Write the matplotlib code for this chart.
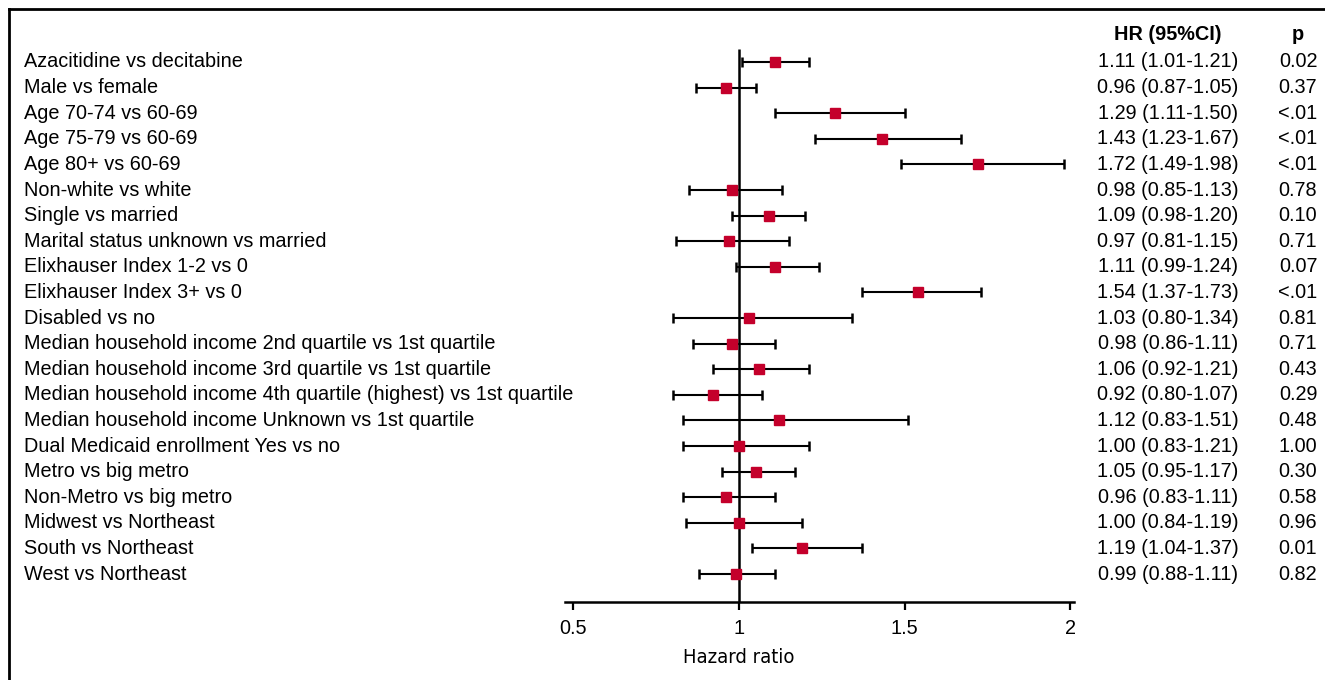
import matplotlib.pyplot as plt
import matplotlib.transforms as mtransforms
from matplotlib.lines import Line2D
import numpy as np

plt.rcParams['font.family'] = ['Liberation Sans', 'DejaVu Sans']

labels = [
    'Azacitidine vs decitabine',
    'Male vs female',
    'Age 70-74 vs 60-69',
    'Age 75-79 vs 60-69',
    'Age 80+ vs 60-69',
    'Non-white vs white',
    'Single vs married',
    'Marital status unknown vs married',
    'Elixhauser Index 1-2 vs 0',
    'Elixhauser Index 3+ vs 0',
    'Disabled vs no',
    'Median household income 2nd quartile vs 1st quartile',
    'Median household income 3rd quartile vs 1st quartile',
    'Median household income 4th quartile (highest) vs 1st quartile',
    'Median household income Unknown vs 1st quartile',
    'Dual Medicaid enrollment Yes vs no',
    'Metro vs big metro',
    'Non-Metro vs big metro',
    'Midwest vs Northeast',
    'South vs Northeast',
    'West vs Northeast',
]
hr = [1.11, 0.96, 1.29, 1.43, 1.72, 0.98, 1.09, 0.97, 1.11, 1.54, 1.03,
      0.98, 1.06, 0.92, 1.12, 1.00, 1.05, 0.96, 1.00, 1.19, 0.99]
lo = [1.01, 0.87, 1.11, 1.23, 1.49, 0.85, 0.98, 0.81, 0.99, 1.37, 0.80,
      0.86, 0.92, 0.80, 0.83, 0.83, 0.95, 0.83, 0.84, 1.04, 0.88]
hi = [1.21, 1.05, 1.50, 1.67, 1.98, 1.13, 1.20, 1.15, 1.24, 1.73, 1.34,
      1.11, 1.21, 1.07, 1.51, 1.21, 1.17, 1.11, 1.19, 1.37, 1.11]
pvals = ['0.02', '0.37', '<.01', '<.01', '<.01', '0.78', '0.10', '0.71',
         '0.07', '<.01', '0.81', '0.71', '0.43', '0.29', '0.48', '1.00',
         '0.30', '0.58', '0.96', '0.01', '0.82']
xticks = [0.5, 1, 1.5, 2]

W, H = 1325, 680
FS = 14.3
XMIN, XMAX = 0.475, 2.0106
fig = plt.figure(figsize=(W / 100, H / 100), dpi=100)
# axes placed so that spine runs 565..1074 px, bottom at y=602 px
ax = fig.add_axes([565 / W, (H - 602) / H, (1074 - 565) / W, (602 - 10) / H])
ax.set_xlim(XMIN, XMAX)
ax.set_ylim(21.09, -2.03)

y = np.arange(len(labels))
hr = np.array(hr)
lo = np.array(lo)
hi = np.array(hi)

ax.vlines(1, -0.5, 21.09, color='black', lw=1.8, zorder=1)
ax.errorbar(hr, y, xerr=[hr - lo, hi - hr], fmt='none', ecolor='black',
            elinewidth=1.5, capsize=3.3, capthick=1.8, zorder=2)
ax.plot(hr, y, 's', color='#C4002B', markersize=7.8, zorder=3)

for s in ['top', 'right', 'left']:
    ax.spines[s].set_visible(False)
ax.spines['bottom'].set_linewidth(1.8)
ax.set_yticks([])
ax.set_xticks(xticks)
ax.set_xticklabels(['0.5', '1', '1.5', '2'])
ax.tick_params(axis='x', length=6, width=1.6, labelsize=FS, pad=6)
ax.set_xlabel('Hazard ratio', fontsize=14.5, family=['DejaVu Sans'],
              fontstretch='condensed')
ax.xaxis.set_label_coords((1 - XMIN) / (XMAX - XMIN), -0.078)

trans = mtransforms.blended_transform_factory(fig.transFigure, ax.transData)
for i, lab in enumerate(labels):
    ax.text(24 / W, i, lab, transform=trans, ha='left', va='center',
            fontsize=FS)
    ax.text(1168 / W, i, f'{hr[i]:.2f} ({lo[i]:.2f}-{hi[i]:.2f})',
            transform=trans, ha='center', va='center', fontsize=FS)
    ax.text(1298 / W, i, pvals[i], transform=trans, ha='center',
            va='center', fontsize=FS)
ax.text(1168 / W, -1.09, 'HR (95%CI)', transform=trans, ha='center',
        va='center', fontsize=FS, fontweight='bold')
ax.text(1298 / W, -1.09, 'p', transform=trans, ha='center', va='center',
        fontsize=FS, fontweight='bold')

# frame on left and top
fig.add_artist(Line2D([9 / W, 9 / W], [0, (H - 9) / H], color='black',
                      lw=2, transform=fig.transFigure))
fig.add_artist(Line2D([9 / W, 1], [(H - 9) / H, (H - 9) / H], color='black',
                      lw=2, transform=fig.transFigure))

fig.savefig('out.png', dpi=100)
